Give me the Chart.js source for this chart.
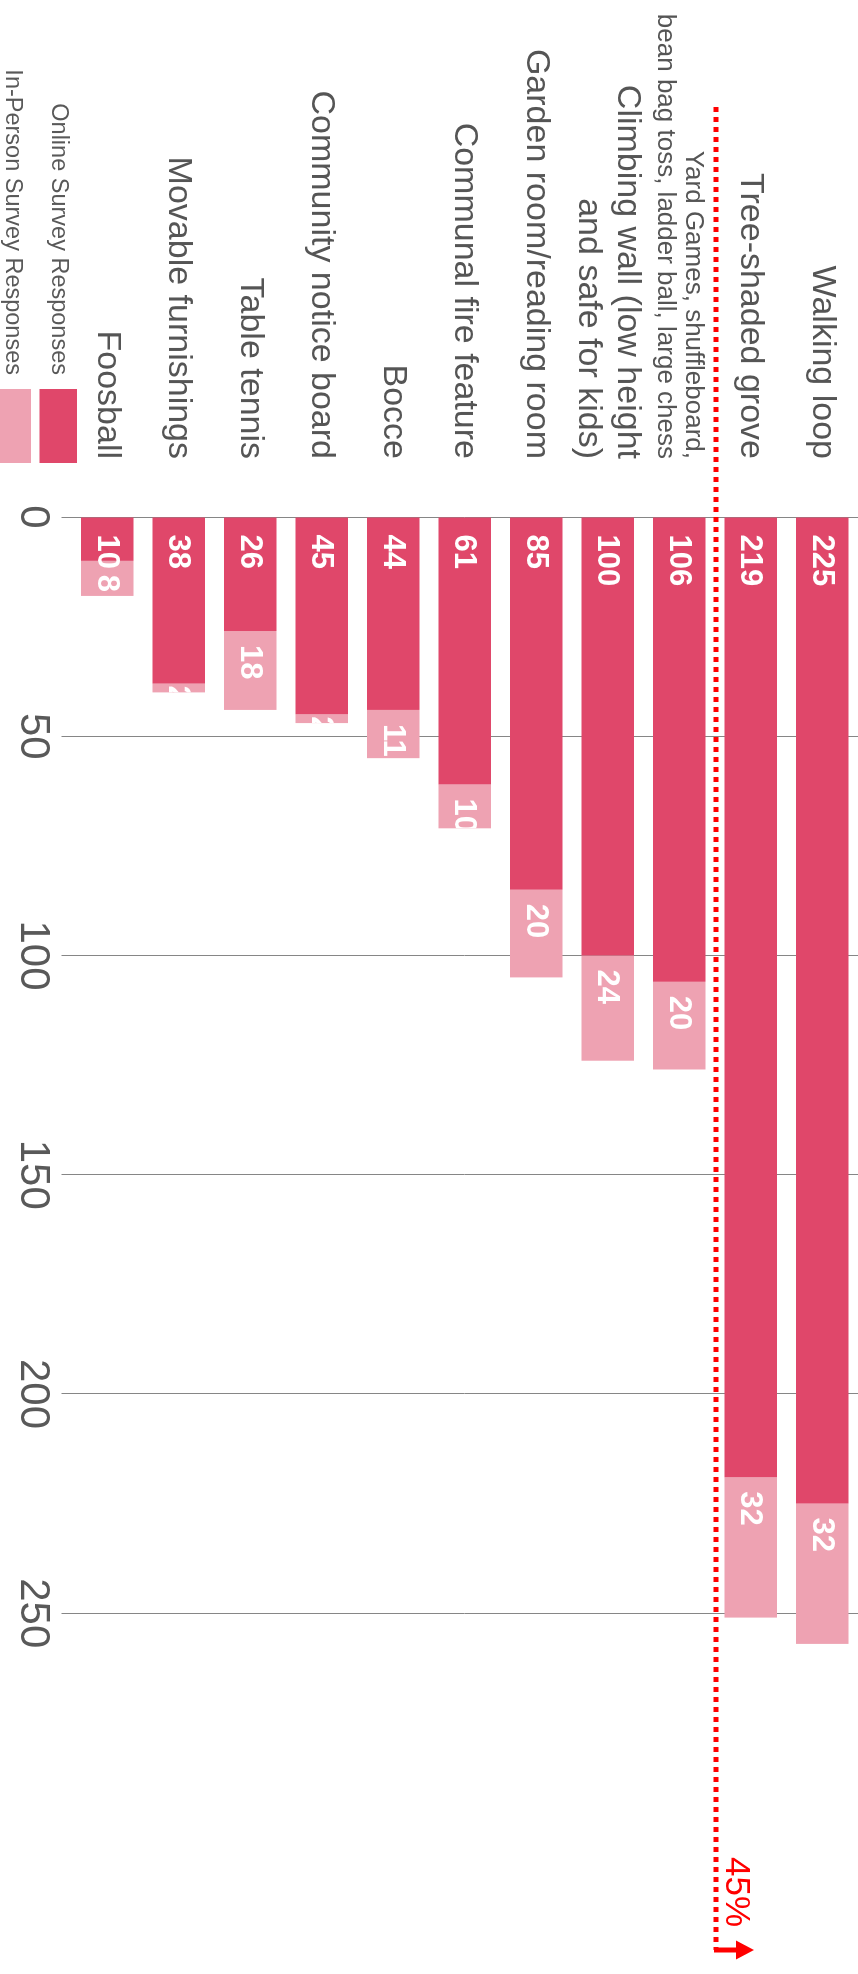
<!DOCTYPE html>
<html lang="en">
<head>
<meta charset="UTF-8" />
<title>Amenity survey responses</title>
<script src="https://cdn.jsdelivr.net/npm/chart.js"></script>
<style>
  html, body { margin: 0; padding: 0; background: #fff; overflow: hidden; }
  #frame { position: relative; width: 858px; height: 1974px; overflow: hidden; }
  /* the chart is drawn lying on its side, then turned a quarter clockwise */
  #turn { position: absolute; left: 0; top: 0; width: 1974px; height: 858px;
          transform-origin: 0 0; transform: translateX(858px) rotate(90deg); }
</style>
</head>
<body>
<div id="frame"><div id="turn"><canvas id="chart" width="1974" height="858"></canvas></div></div>
<script>
const categories = [
  "Walking loop",
  "Tree-shaded grove",
  ["Yard Games, shuffleboard,", "bean bag toss, ladder ball, large chess"],
  ["Climbing wall (low height", "and safe for kids)"],
  "Garden room/reading room",
  "Communal fire feature",
  "Bocce",
  "Community notice board",
  "Table tennis",
  "Movable furnishings",
  "Foosball"
];
const onlineResponses = [225, 219, 106, 100, 85, 61, 44, 45, 26, 38, 10];
const inPersonResponses = [32, 32, 20, 24, 20, 10, 11, 2, 18, 2, 8];
const valueTicks = [0, 50, 100, 150, 200, 250];
const seriesNames = ["Online Survey Responses", "In-Person Survey Responses"];
const seriesColors = ["#E0476A", "#EEA2B2"];
const markerLabel = "45%";
const markerAfterIndex = 1; // dotted line sits below "Tree-shaded grove"

const FONT = '"Liberation Sans", Arial, Helvetica, sans-serif';
Chart.defaults.font.family = FONT;

// white value labels inside each segment, clipped to the whole stacked bar
const barLabels = {
  id: "barLabels",
  afterDatasetsDraw(chart) {
    const c = chart.ctx;
    const xs = chart.scales.x;
    chart.data.datasets.forEach((ds, di) => {
      chart.getDatasetMeta(di).data.forEach((bar, i) => {
        const left = Math.min(bar.base, bar.x);
        const len = Math.abs(bar.x - bar.base);
        const top = bar.y - bar.height / 2;
        const start = xs.getPixelForValue(0);
        const end = xs.getPixelForValue(onlineResponses[i] + inPersonResponses[i]);
        const pad = di === 0 ? 17 : (len > 30 ? 14 : 2);
        c.save();
        c.beginPath();
        c.rect(start, top, end - start, bar.height);
        c.clip();
        c.fillStyle = "#ffffff";
        c.font = "bold 31px " + FONT;
        c.textAlign = "left";
        c.textBaseline = "middle";
        c.fillText(String(ds.data[i]), left + pad, bar.y + 1);
        c.restore();
      });
    });
  }
};

// red dotted threshold line with arrow and label
const marker = {
  id: "marker",
  afterDraw(chart) {
    const c = chart.ctx;
    const ys = chart.scales.y;
    const lineY = (ys.getPixelForValue(markerAfterIndex) + ys.getPixelForValue(markerAfterIndex + 1)) / 2 - 1;
    const x0 = 107;
    const x1 = chart.chartArea.right - 14;
    c.save();
    c.strokeStyle = "#ff0000";
    c.fillStyle = "#ff0000";
    c.lineWidth = 5;
    c.setLineDash([5, 5]);
    c.beginPath();
    c.moveTo(x0, lineY);
    c.lineTo(x1, lineY);
    c.stroke();
    c.setLineDash([]);
    c.beginPath();
    c.moveTo(x1, lineY + 2);
    c.lineTo(x1, lineY - 21);
    c.stroke();
    c.beginPath();
    c.moveTo(x1 - 9.5, lineY - 20);
    c.lineTo(x1 + 9.5, lineY - 20);
    c.lineTo(x1, lineY - 38);
    c.closePath();
    c.fill();
    c.font = "35px " + FONT;
    c.textAlign = "right";
    c.textBaseline = "alphabetic";
    c.fillText(markerLabel, x1 - 23, lineY - 10);
    c.restore();
  }
};

// legend: text on the left, colour box on the right, stacked
const legendBox = {
  id: "legendBox",
  afterDraw(chart) {
    const c = chart.ctx;
    const right = chart.chartArea.left - 54;
    const top0 = chart.chartArea.bottom - 5.5;
    c.save();
    seriesNames.forEach((name, i) => {
      const top = top0 + i * 46;
      c.fillStyle = seriesColors[i];
      c.fillRect(right - 74, top, 74, 37.5);
      c.fillStyle = "#595959";
      c.font = "23.5px " + FONT;
      c.textAlign = "right";
      c.textBaseline = "middle";
      c.fillText(name, right - 74 - 14, top + 19);
    });
    c.restore();
  }
};

const ctx = document.getElementById("chart").getContext("2d");
new Chart(ctx, {
  type: "bar",
  data: {
    labels: categories,
    datasets: [
      { label: seriesNames[0], data: onlineResponses, backgroundColor: seriesColors[0] },
      { label: seriesNames[1], data: inPersonResponses, backgroundColor: seriesColors[1] }
    ]
  },
  options: {
    indexAxis: "y",
    responsive: false,
    animation: false,
    devicePixelRatio: 1,
    layout: { padding: { left: 0, right: 10, top: 0, bottom: 0 } },
    datasets: { bar: { categoryPercentage: 1, barPercentage: 0.736 } },
    plugins: { legend: { display: false }, tooltip: { enabled: false } },
    scales: {
      x: {
        stacked: true,
        min: 0,
        max: 330,
        afterBuildTicks: (s) => { s.ticks = valueTicks.map((v) => ({ value: v })); },
        afterFit: (s) => { s.height = 71.5; s.paddingLeft = 0; s.paddingRight = 0; },
        grid: { color: "#868686", lineWidth: 1, drawTicks: true, tickLength: 10 },
        border: { display: false },
        ticks: { padding: 4, color: "#595959", font: { size: 42 } }
      },
      y: {
        stacked: true,
        afterFit: (s) => { s.width = 517; s.paddingTop = 0; s.paddingBottom = 0; },
        grid: { display: false },
        border: { display: false },
        ticks: {
          padding: 50,
          autoSkip: false,
          color: "#555555",
          font: (c) => c.index === 2 ? { size: 26, lineHeight: 1.08 } : { size: 34, lineHeight: 1.15 }
        }
      }
    }
  },
  plugins: [barLabels, marker, legendBox]
});
</script>
</body>
</html>
